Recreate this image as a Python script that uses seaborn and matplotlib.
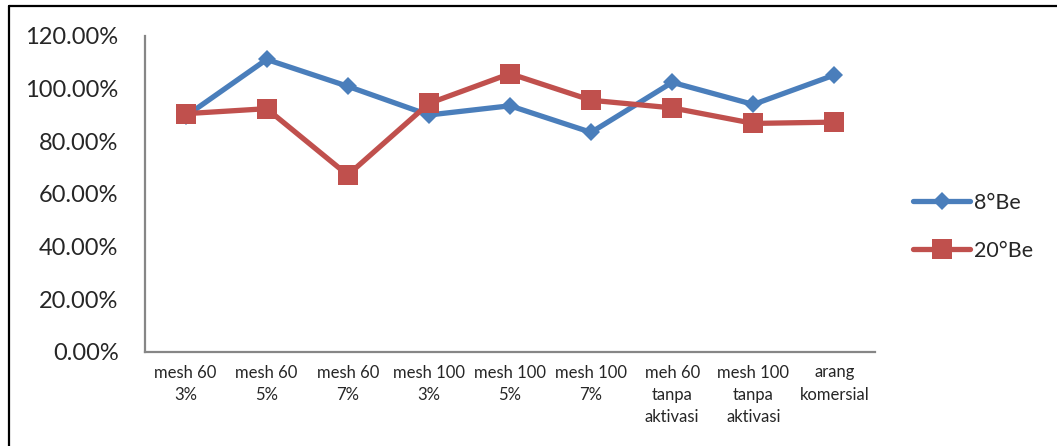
import matplotlib
matplotlib.use("Agg")
import matplotlib.pyplot as plt
from matplotlib.lines import Line2D
from matplotlib.ticker import PercentFormatter
import numpy as np
import pandas as pd
import seaborn as sns

categories = [
    "mesh 60\n3%", "mesh 60\n5%", "mesh 60\n7%",
    "mesh 100\n3%", "mesh 100\n5%", "mesh 100\n7%",
    "meh 60\ntanpa\naktivasi", "mesh 100\ntanpa\naktivasi", "arang\nkomersial",
]
be8 = [89.5, 111.1, 100.9, 90.0, 93.5, 83.4, 102.4, 94.0, 105.2]
be20 = [90.5, 92.4, 67.2, 94.4, 105.7, 95.6, 92.7, 86.8, 87.3]
series_names = ["8°Be", "20°Be"]

BLUE = "#4A7EBB"
RED = "#C0504D"

sns.set_theme(style="white")
plt.rcParams["font.family"] = ["Lato", "DejaVu Sans"]

df = pd.DataFrame({
    "pos": list(range(len(categories))) * 2,
    "value": be8 + be20,
    "series": [series_names[0]] * len(be8) + [series_names[1]] * len(be20),
})

fig = plt.figure(figsize=(10.57, 4.46), dpi=100)
ax = fig.add_axes([145 / 1057, 1 - 352 / 446, 730 / 1057, 316 / 446])

styles = {
    series_names[0]: dict(color=BLUE, marker="D", markersize=9.5),
    series_names[1]: dict(color=RED, marker="s", markersize=14),
}
for name in series_names:
    st = styles[name]
    sns.lineplot(
        data=df[df["series"] == name], x="pos", y="value", ax=ax,
        color=st["color"], marker=st["marker"], markersize=st["markersize"],
        markeredgewidth=0, linewidth=3.8, sort=False, legend=False,
        errorbar=None,
    )

ax.set_xlim(-0.5, len(categories) - 0.5)
ax.set_ylim(0, 120)
ax.set_yticks(np.arange(0, 121, 20))
ax.yaxis.set_major_formatter(PercentFormatter(xmax=100, decimals=2))
ax.set_xticks(range(len(categories)))
ax.set_xticklabels(categories, fontsize=12, linespacing=1.5,
                   multialignment="center")
ax.tick_params(axis="y", labelsize=17, pad=19, length=0)
ax.tick_params(axis="x", pad=9, length=0)
ax.set_xlabel("")
ax.set_ylabel("")
for side in ("top", "right"):
    ax.spines[side].set_visible(False)
for side in ("left", "bottom"):
    ax.spines[side].set_color("#868686")
    ax.spines[side].set_linewidth(1.6)
ax.grid(False)

handles = [
    Line2D([], [], color=BLUE, marker="D", markersize=9.5, markeredgewidth=0,
           linewidth=3.8),
    Line2D([], [], color=RED, marker="s", markersize=14, markeredgewidth=0,
           linewidth=3.8),
]
fig.legend(handles, series_names, loc="center left",
           bbox_to_anchor=(913 / 1057, 1 - 227 / 446), frameon=False,
           fontsize=15.5, handlelength=2.65, handletextpad=0.18,
           labelspacing=1.3, borderpad=0, borderaxespad=0)

# chart border (top and left edges)
fig.add_artist(Line2D([9 / 1057, 1.0], [1 - 5.5 / 446, 1 - 5.5 / 446],
                      transform=fig.transFigure, color="black", linewidth=1.6))
fig.add_artist(Line2D([9 / 1057, 9 / 1057], [0.0, 1 - 5.5 / 446],
                      transform=fig.transFigure, color="black", linewidth=1.6))

fig.savefig("out.png", dpi=100, facecolor="white")
